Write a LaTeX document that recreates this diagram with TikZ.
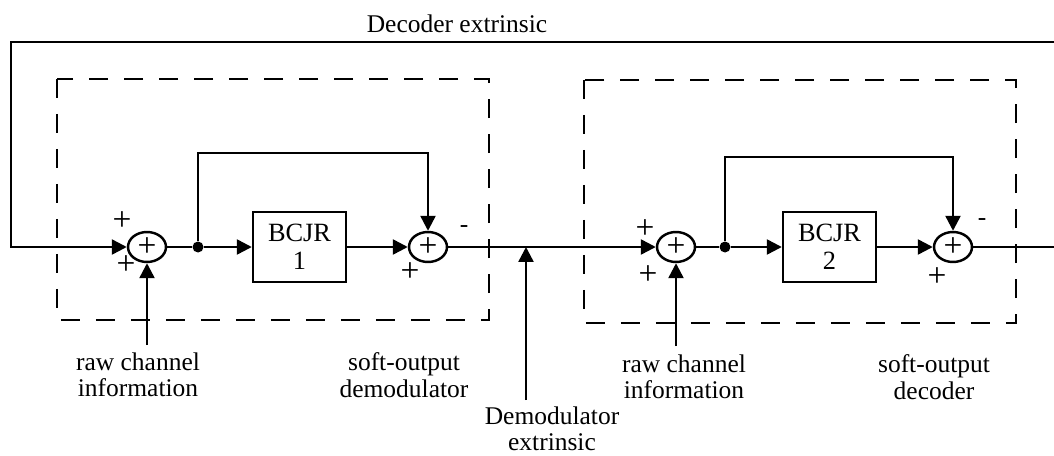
\documentclass[tikz,border=0pt]{standalone}
\usepackage{fontspec}
\setmainfont{Liberation Serif}
\usetikzlibrary{arrows.meta,shapes.geometric}
\definecolor{linie}{HTML}{000000}
\tikzset{
  sig/.style={linie,line width=1.4pt},
  pfeil/.style={-{Triangle[length=3mm,width=3mm]},linie,line width=1.4pt},
  rahmen/.style={linie,line width=1.3pt,dash pattern=on 0.38cm off 0.32cm},
  blk/.style={draw=linie,line width=1.4pt,minimum width=1.86cm,minimum height=1.4cm,inner sep=0pt,align=center,font=\fontsize{15}{16}\selectfont},
  summe/.style={ellipse,draw=linie,line width=1.4pt,minimum width=0.76cm,minimum height=0.6cm,inner sep=0pt,font=\fontsize{19}{19}\selectfont},
  punkt/.style={circle,fill=linie,minimum size=0.22cm,inner sep=0pt},
  vz/.style={inner sep=0pt,font=\fontsize{19}{19}\selectfont},
  txt/.style={inner sep=0pt,align=center,font=\fontsize{14.5}{15}\selectfont},
}

\begin{document}
\begin{tikzpicture}[x=0.02cm,y=-0.02cm]
  \useasboundingbox (0,0) rectangle (1054,456);
  % gestrichelte Rahmen
  \draw[rahmen] (57,79) rectangle (489,320);
  \draw[rahmen] (584,80) rectangle (1016,323);

  \node[summe] (s1) at (147,247) {+};
  \node[punkt] (p1) at (198,247) {};
  \node[blk] (b1) at (299.5,247) {BCJR\\1};
  \node[summe] (s2) at (428,247) {+};
  \node[summe] (s3) at (676,247) {+};
  \node[punkt] (p2) at (725,247) {};
  \node[blk] (b2) at (829.5,247) {BCJR\\2};
  \node[summe] (s4) at (953,247) {+};

  % Vorzeichen
  \node[vz] (v1a) at (122,221) {+};
  \node[vz] (v1b) at (126,265) {+};
  \node[txt] (v2a) at (464,229) {-};
  \node[vz] (v2b) at (410,272) {+};
  \node[vz] (v3a) at (645,229) {+};
  \node[vz] (v3b) at (648,275) {+};
  \node[txt] (v4a) at (982,222) {-};
  \node[vz] (v4b) at (937,277) {+};

  % Beschriftung
  \node[txt] (dex) at (457,24) {Decoder extrinsic};
  \node[txt] (raw1) at (138,375) {raw channel\\information};
  \node[txt] (so1) at (404,375) {soft-output\\demodulator};
  \node[txt] (dem) at (552,429) {Demodulator\\extrinsic};
  \node[txt] (raw2) at (684,377) {raw channel\\information};
  \node[txt] (so2) at (934,377) {soft-output\\decoder};

  \coordinate (li) at (11,42);
  \coordinate (re) at (1054,42);
  \coordinate (ein) at (11,247);
  \coordinate (aus) at (1054,247);
  \coordinate (r1) at (147,345);
  \coordinate (r2) at (676,346);
  \coordinate (dm) at (526,400);
  \coordinate (dj) at (526,247);

  % Signalweg
  \draw[pfeil] (re) -- (li) -- (ein) -- (s1);
  \draw[sig] (s1) -- (p1);
  \draw[pfeil] (p1) -- (b1);
  \draw[pfeil] (b1) -- (s2);
  \draw[pfeil] (p1) -- ++(0,-94) -| (s2);
  \draw[pfeil] (s2) -- (s3);
  \draw[sig] (s3) -- (p2);
  \draw[pfeil] (p2) -- (b2);
  \draw[pfeil] (b2) -- (s4);
  \draw[pfeil] (p2) -- ++(0,-90) -| (s4);
  \draw[sig] (s4) -- (aus);

  \draw[pfeil] (r1) -- (s1);
  \draw[pfeil] (r2) -- (s3);
  \draw[pfeil] (dm) -- (dj);
\end{tikzpicture}
\end{document}
